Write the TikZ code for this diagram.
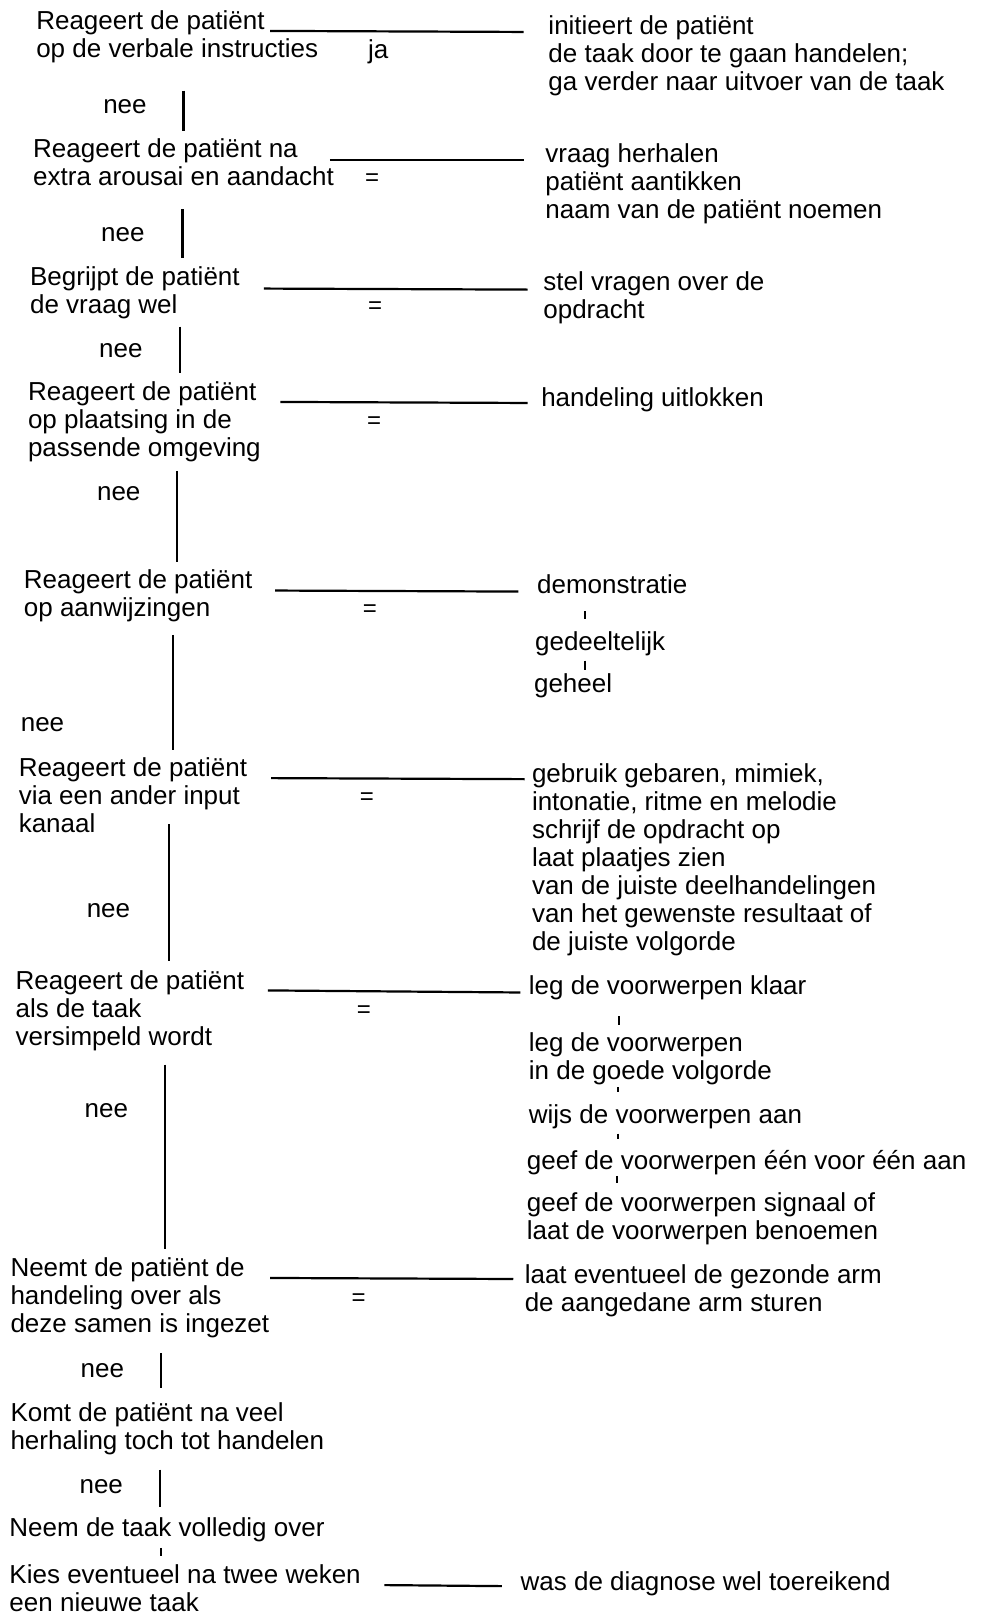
\documentclass[tikz,border=0pt]{standalone}
\usepackage{fontspec}
\setmainfont{Liberation Sans}
\begin{document}
\begin{tikzpicture}[x=1.0305pt, y=-1.0305pt,
  txt/.style={anchor=base west, inner sep=0pt, align=left, font=\fontsize{26}{28}\selectfont},
  eq/.style={inner sep=0pt, font=\fontsize{24}{24}\selectfont},
  rule/.style={line width=2.2pt},
  tick/.style={line width=2pt}]
\useasboundingbox (0,0) rectangle (951,1568);

\node (q1) at (35, 56) [txt] {Reageert de patiënt\\op de verbale instructies};
\node (ja) at (357, 57) [txt] {ja};
\node (a1) at (532, 88) [txt] {initieert de patiënt\\de taak door te gaan handelen;\\ga verder naar uitvoer van de taak};
\node (n1) at (100, 110) [txt] {nee};

\node (q2) at (32, 180) [txt] {Reageert de patiënt na\\extra arousai en aandacht};
\node (e2) at (361, 174) [eq] {=};
\node (a2) at (529, 212) [txt] {vraag herhalen\\patiënt aantikken\\naam van de patiënt noemen};
\node (n2) at (98, 234) [txt] {nee};

\node (q3) at (29, 304) [txt] {Begrijpt de patiënt\\de vraag wel};
\node (e3) at (364, 298) [eq] {=};
\node (a3) at (527, 309) [txt] {stel vragen over de\\opdracht};
\node (n3) at (96, 347) [txt] {nee};

\node (q4) at (27, 443) [txt] {Reageert de patiënt\\op plaatsing in de\\passende omgeving};
\node (e4) at (363, 410) [eq] {=};
\node (a4) at (525, 394) [txt] {handeling uitlokken};
\node (n4) at (94, 486) [txt] {nee};

\node (q5) at (23, 598) [txt] {Reageert de patiënt\\op aanwijzingen};
\node (e5) at (359, 592) [eq] {=};
\node (a5a) at (521, 576) [txt] {demonstratie};
\node (a5b) at (519, 631) [txt] {gedeeltelijk};
\node (a5c) at (518, 672) [txt] {geheel};
\node (n5) at (20, 710) [txt] {nee};

\node (q6) at (18, 808) [txt] {Reageert de patiënt\\via een ander input\\kanaal};
\node (e6) at (356, 775) [eq] {=};
\node (a6) at (516, 922) [txt] {gebruik gebaren, mimiek,\\intonatie, ritme en melodie\\schrijf de opdracht op\\laat plaatjes zien\\van de juiste deelhandelingen\\van het gewenste resultaat of\\de juiste volgorde};
\node (n6) at (84, 890) [txt] {nee};

\node (q7) at (15, 1014) [txt] {Reageert de patiënt\\als de taak\\versimpeld wordt};
\node (e7) at (353, 982) [eq] {=};
\node (a7a) at (513, 965) [txt] {leg de voorwerpen klaar};
\node (a7b) at (513, 1047) [txt] {leg de voorwerpen\\in de goede volgorde};
\node (a7c) at (513, 1090) [txt] {wijs de voorwerpen aan};
\node (a7d) at (511, 1135) [txt] {geef de voorwerpen één voor één aan};
\node (a7e) at (511, 1203) [txt] {geef de voorwerpen signaal of\\laat de voorwerpen benoemen};
\node (n7) at (82, 1084) [txt] {nee};

\node (q8) at (10, 1293) [txt] {Neemt de patiënt de\\handeling over als\\deze samen is ingezet};
\node (e8) at (348, 1261) [eq] {=};
\node (a8) at (509, 1273) [txt] {laat eventueel de gezonde arm\\de aangedane arm sturen};
\node (n8) at (78, 1337) [txt] {nee};

\node (q9) at (10, 1406) [txt] {Komt de patiënt na veel\\herhaling toch tot handelen};
\node (n9) at (77, 1449) [txt] {nee};

\node (q10) at (9, 1491) [txt] {Neem de taak volledig over};
\node (q11) at (9, 1564) [txt] {Kies eventueel na twee weken\\een nieuwe taak};
\node (a11) at (505, 1543) [txt] {was de diagnose wel toereikend};

\coordinate (h1l) at (262, 30);  \coordinate (h1r) at (508, 31);
\coordinate (h2l) at (320, 155); \coordinate (h2r) at (508, 155);
\coordinate (h3l) at (256, 280); \coordinate (h3r) at (512, 281);
\coordinate (h4l) at (272, 390); \coordinate (h4r) at (512, 391);
\coordinate (h5l) at (267, 573); \coordinate (h5r) at (503, 574);
\coordinate (h6l) at (263, 755); \coordinate (h6r) at (509, 756);
\coordinate (h7l) at (260, 961); \coordinate (h7r) at (505, 963);
\coordinate (h8l) at (262, 1240); \coordinate (h8r) at (498, 1241);
\coordinate (h11l) at (373, 1538); \coordinate (h11r) at (487, 1539);

\coordinate (v1t) at (178, 88);   \coordinate (v1b) at (178, 127);
\coordinate (v2t) at (177, 203);  \coordinate (v2b) at (177, 250);
\coordinate (v3t) at (175, 317);  \coordinate (v3b) at (175, 362);
\coordinate (v4t) at (172, 457);  \coordinate (v4b) at (172, 545);
\coordinate (v5t) at (168, 616);  \coordinate (v5b) at (168, 728);
\coordinate (v6t) at (164, 800);  \coordinate (v6b) at (164, 932);
\coordinate (v7t) at (160, 1033); \coordinate (v7b) at (160, 1212);
\coordinate (v8t) at (156, 1313); \coordinate (v8b) at (156, 1347);
\coordinate (v9t) at (155, 1426); \coordinate (v9b) at (155, 1462);

\foreach \i in {1,...,8,11}
  \draw [rule] (h\i l) -- (h\i r);
\foreach \i in {1,...,9}
  \draw [rule] (v\i t) -- (v\i b);

\coordinate (t1t) at (568, 593);  \coordinate (t1b) at (568, 601);
\coordinate (t2t) at (568, 641);  \coordinate (t2b) at (568, 650);
\coordinate (t3t) at (601, 986);  \coordinate (t3b) at (601, 995);
\coordinate (t4t) at (600, 1055); \coordinate (t4b) at (600, 1060);
\coordinate (t5t) at (600, 1100); \coordinate (t5b) at (600, 1105);
\coordinate (t6t) at (599, 1141); \coordinate (t6b) at (599, 1148);
\coordinate (t7t) at (156, 1502); \coordinate (t7b) at (156, 1510);

\foreach \i in {1,...,7}
  \draw [tick] (t\i t) -- (t\i b);
\end{tikzpicture}
\end{document}
